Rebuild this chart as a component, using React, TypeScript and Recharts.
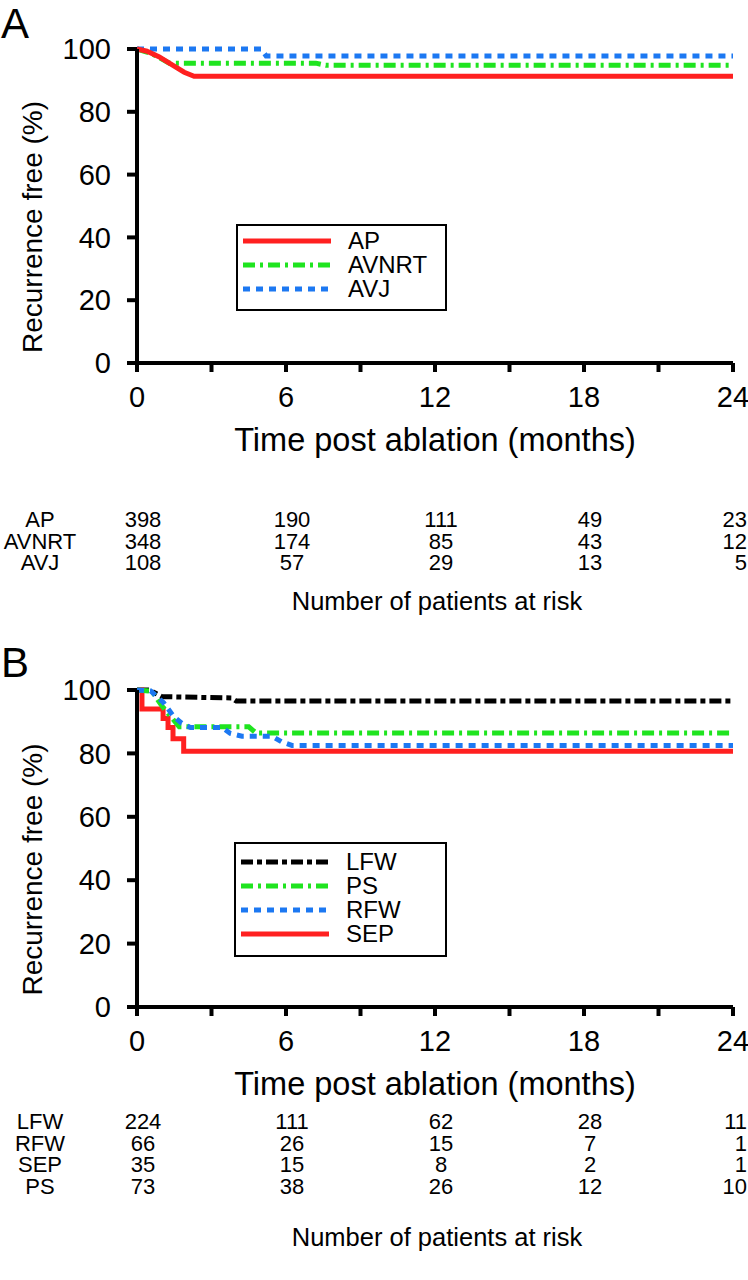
import React from 'react';
import { LineChart, Line, XAxis, YAxis, Legend } from 'recharts';

// axis ticks
const monthTicks = [0, 3, 6, 9, 12, 15, 18, 21, 24];
const riskMonths = [0, 6, 12, 18, 24];
const percentTicks = [0, 20, 40, 60, 80, 100];

// panel A curves (months, % recurrence free)
const apMonths = [0, 0.4, 0.9, 1.4, 1.9, 2.3, 24];
const apFree = [100, 99.3, 97.5, 95, 92.6, 91.3, 91.3];
const avnrtMonths = [0, 0.6, 1.3, 7.2, 7.6, 24];
const avnrtFree = [100, 98.5, 95.5, 95.5, 94.8, 94.8];
const avjMonths = [0, 5.0, 5.2, 24];
const avjFree = [100, 100, 97.8, 97.8];

// panel B curves
const lfwMonths = [0, 0.5, 1.0, 3.8, 4.0, 24];
const lfwFree = [100, 100, 97.9, 97.5, 96.5, 96.5];
const psMonths = [0, 0.6, 1.0, 1.7, 4.5, 4.8, 24];
const psFree = [100, 99.6, 95, 88.4, 88.4, 86.4, 86.4];
const rfwMonths = [0, 0.55, 1.07, 1.48, 1.8, 2.15, 3.42, 3.76, 4.23, 5.44, 5.84, 6.24, 24];
const rfwFree = [100, 99.7, 96, 91.6, 89.5, 88.2, 88.2, 86.3, 85.4, 85.4, 83.6, 82.5, 82.5];
const sepMonths = [0, 0.2, 1.05, 1.25, 1.45, 1.88, 24];
const sepFree = [100, 94, 91, 88.2, 84.6, 80.7, 80.7];

// patients at risk
const apAtRisk = [398, 190, 111, 49, 23];
const avnrtAtRisk = [348, 174, 85, 43, 12];
const avjAtRisk = [108, 57, 29, 13, 5];
const lfwAtRisk = [224, 111, 62, 28, 11];
const rfwAtRisk = [66, 26, 15, 7, 1];
const sepAtRisk = [35, 15, 8, 2, 1];
const psAtRisk = [73, 38, 26, 12, 10];

const RED = '#ff2020';
const GREEN = '#1fe41f';
const BLUE = '#1c78f2';
const BLACK = '#000000';

const FONT = "'Liberation Sans', Arial, sans-serif";

const toPoints = (months: number[], free: number[]) =>
  months.map((m, i) => ({ month: m, free: free[i] }));

type Series = {
  name: string;
  months: number[];
  free: number[];
  color: string;
  dash?: string;
  curve: 'linear' | 'stepAfter';
};

const solid = undefined;
const dashDot = '12 5 3 5';
const dotted = '7 6';
const longDashDot = '12 4 5 4';

const seriesA: Series[] = [
  { name: 'AVNRT', months: avnrtMonths, free: avnrtFree, color: GREEN, dash: dashDot, curve: 'linear' },
  { name: 'AVJ', months: avjMonths, free: avjFree, color: BLUE, dash: dotted, curve: 'linear' },
  { name: 'AP', months: apMonths, free: apFree, color: RED, dash: solid, curve: 'linear' },
];
const legendA = ['AP', 'AVNRT', 'AVJ'];

const seriesB: Series[] = [
  { name: 'LFW', months: lfwMonths, free: lfwFree, color: BLACK, dash: longDashDot, curve: 'linear' },
  { name: 'SEP', months: sepMonths, free: sepFree, color: RED, dash: solid, curve: 'stepAfter' },
  { name: 'PS', months: psMonths, free: psFree, color: GREEN, dash: dashDot, curve: 'linear' },
  { name: 'RFW', months: rfwMonths, free: rfwFree, color: BLUE, dash: dotted, curve: 'linear' },
];
const legendB = ['LFW', 'PS', 'RFW', 'SEP'];

const XTitle = (props: any) => {
  const { viewBox, text, dy } = props;
  return (
    <text
      x={viewBox.x + viewBox.width / 2}
      y={viewBox.y + dy}
      textAnchor="middle"
      dominantBaseline="central"
      fontSize={32.5}
      fill="#000"
    >
      {text}
    </text>
  );
};

const YTitle = (props: any) => {
  const { viewBox, text } = props;
  const x = viewBox.x + 32;
  const y = viewBox.y + viewBox.height / 2 + 21;
  return (
    <text
      x={x}
      y={y}
      transform={`rotate(-90 ${x} ${y})`}
      textAnchor="middle"
      dominantBaseline="central"
      fontSize={28}
      fill="#000"
    >
      {text}
    </text>
  );
};

const LegendBox = ({ items, width, padTop, padBottom }: { items: Series[]; width: number; padTop: number; padBottom: number }) => (
  <div
    style={{
      border: '2.5px solid #000',
      padding: `${padTop}px 0 ${padBottom}px 5px`,
      background: '#fff',
      boxSizing: 'border-box',
      width,
      fontFamily: FONT,
    }}
  >
    {items.map((it) => (
      <div key={it.name} style={{ display: 'flex', alignItems: 'center', height: 24 }}>
        <svg width={88} height={10}>
          <line x1={0} x2={88} y1={5} y2={5} stroke={it.color} strokeWidth={5} strokeDasharray={it.dash} />
        </svg>
        <span style={{ marginLeft: 17, fontSize: 24, lineHeight: '24px', color: '#000' }}>{it.name}</span>
      </div>
    ))}
  </div>
);

type PanelProps = {
  letter: string;
  letterTop: number;
  top: number;
  plotHeight: number;
  series: Series[];
  legendOrder: string[];
  legendPos: { left: number; top: number; width: number; padTop: number; padBottom: number };
  riskNames: string[];
  riskRows: number[][];
  riskTop: number;
  noteTop: number;
};

const PLOT_LEFT = 137;
const PLOT_WIDTH = 596;

// one cell of the at-risk table; kept to the row height so rows sit tight like the original
const cellStyle: React.CSSProperties = {
  position: 'absolute',
  top: 0,
  height: 21,
  lineHeight: '21px',
  overflow: 'visible',
  whiteSpace: 'nowrap',
};

function Panel({ letter, letterTop, top, plotHeight, series, legendOrder, legendPos, riskNames, riskRows, riskTop, noteTop }: PanelProps) {
  const legendItems = legendOrder.map((n) => series.find((s) => s.name === n)!);
  const lastCol = riskMonths.length - 1;
  return (
    <div style={{ position: 'absolute', left: 0, top, width: 748 }}>
      <div style={{ position: 'absolute', left: 1, top: letterTop, fontSize: 42, fontFamily: FONT }}>{letter}</div>
      <LineChart
        width={748}
        height={49 + plotHeight + 100}
        margin={{ top: 49, right: 748 - PLOT_LEFT - PLOT_WIDTH, bottom: 0, left: 0 }}
        style={{ fontFamily: FONT }}
      >
        <XAxis
          dataKey="month"
          type="number"
          domain={[0, 24]}
          ticks={monthTicks}
          interval={0}
          height={100}
          tickFormatter={(v: number) => (v % 6 === 0 ? String(v) : '')}
          axisLine={{ stroke: '#000', strokeWidth: 4 }}
          tickLine={{ stroke: '#000', strokeWidth: 4 }}
          tickSize={9}
          tickMargin={14}
          tick={{ fill: '#000', fontSize: 29 }}
          label={<XTitle text="Time post ablation (months)" dy={77} />}
        />
        <YAxis
          type="number"
          domain={[0, 100]}
          ticks={percentTicks}
          interval={0}
          width={PLOT_LEFT}
          axisLine={{ stroke: '#000', strokeWidth: 4 }}
          tickLine={{ stroke: '#000', strokeWidth: 4 }}
          tickSize={10}
          tickMargin={16}
          tick={{ fill: '#000', fontSize: 29 }}
          label={<YTitle text="Recurrence free (%)" />}
        />
        <Legend
          layout="vertical"
          align="center"
          verticalAlign="middle"
          wrapperStyle={{ left: legendPos.left, top: legendPos.top, width: legendPos.width }}
          content={() => (
            <LegendBox items={legendItems} width={legendPos.width} padTop={legendPos.padTop} padBottom={legendPos.padBottom} />
          )}
        />
        {series.map((s) => (
          <Line
            key={s.name}
            name={s.name}
            data={toPoints(s.months, s.free)}
            dataKey="free"
            type={s.curve}
            stroke={s.color}
            strokeWidth={5}
            strokeDasharray={s.dash}
            dot={false}
            activeDot={false}
            isAnimationActive={false}
          />
        ))}
      </LineChart>
      {riskRows.map((row, r) => (
        <div key={riskNames[r]} style={{ position: 'absolute', left: 0, top: riskTop + r * 21.5, width: 748, height: 21, fontFamily: FONT, fontSize: 22 }}>
          <div style={{ ...cellStyle, left: 40, transform: 'translateX(-50%)' }}>{riskNames[r]}</div>
          {row.map((n, c) =>
            c === lastCol ? (
              <div key={c} style={{ ...cellStyle, right: 1, textAlign: 'right' }}>
                {n}
              </div>
            ) : (
              <div
                key={c}
                style={{ ...cellStyle, left: PLOT_LEFT + (riskMonths[c] / 24) * PLOT_WIDTH + 6, transform: 'translateX(-50%)' }}
              >
                {n}
              </div>
            )
          )}
        </div>
      ))}
      <div style={{ position: 'absolute', left: 437, top: noteTop, transform: 'translateX(-50%)', whiteSpace: 'nowrap', fontFamily: FONT, fontSize: 25.5, lineHeight: '26px' }}>
        Number of patients at risk
      </div>
    </div>
  );
}

export default function App() {
  return (
    <div style={{ position: 'absolute', left: 0, top: 0, width: 748, height: 1280, background: '#fff', overflow: 'hidden', fontFamily: FONT }}>
      <Panel
        letter="A"
        letterTop={0}
        top={0}
        plotHeight={314}
        series={seriesA}
        legendOrder={legendA}
        legendPos={{ left: 236, top: 224, width: 211, padTop: 3, padBottom: 8 }}
        riskNames={['AP', 'AVNRT', 'AVJ']}
        riskRows={[apAtRisk, avnrtAtRisk, avjAtRisk]}
        riskTop={509}
        noteTop={588}
      />
      <Panel
        letter="B"
        letterTop={-2}
        top={641}
        plotHeight={317}
        series={seriesB}
        legendOrder={legendB}
        legendPos={{ left: 234, top: 201, width: 213, padTop: 6, padBottom: 9 }}
        riskNames={['LFW', 'RFW', 'SEP', 'PS']}
        riskRows={[lfwAtRisk, rfwAtRisk, sepAtRisk, psAtRisk]}
        riskTop={470}
        noteTop={583}
      />
    </div>
  );
}
